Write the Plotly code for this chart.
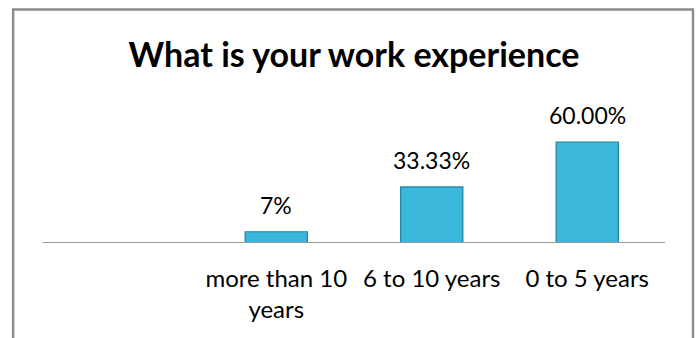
import plotly.graph_objects as go

categories = ["", "more than 10 years", "6 to 10 years", "0 to 5 years"]
tick_labels = ["", "more than 10<br>years", "6 to 10 years", "0 to 5 years"]
values = [None, 6.67, 33.33, 60.00]
value_labels = ["", "7%", "33.33%", "60.00%"]

x_pos = list(range(len(categories)))
bar_x = [x for x, v in zip(x_pos, values) if v is not None]
bar_y = [v for v in values if v is not None]
bar_t = [t for t, v in zip(value_labels, values) if v is not None]

FONT = "Lato"

fig = go.Figure()
fig.add_trace(go.Bar(
    x=bar_x, y=bar_y, width=0.4,
    marker=dict(color="#3ab7da", line=dict(color="#22829c", width=1.2)),
    hoverinfo="skip",
))

for x, y, t in zip(bar_x, bar_y, bar_t):
    fig.add_annotation(x=x, y=y, text=t, showarrow=False, yanchor="bottom",
                       yshift=11, font=dict(family=FONT, size=23, color="#000000"))

fig.update_layout(
    width=699, height=338,
    margin=dict(l=43, r=34, t=60, b=95),
    paper_bgcolor="white", plot_bgcolor="white",
    showlegend=False,
    title=dict(text="<b>What is your work experience</b>", x=0.5, xref="paper",
               y=1 - 55 / 338, yref="container", yanchor="middle",
               font=dict(family=FONT, size=34, color="#000000")),
    xaxis=dict(range=[-0.5, 3.5], tickvals=x_pos, ticktext=tick_labels,
               showgrid=False, zeroline=False, showline=False, ticks="",
               ticklabelstandoff=19,
               tickfont=dict(family=FONT, size=24, color="#000000")),
    yaxis=dict(range=[0, 183 / 1.683], visible=False, showgrid=False, zeroline=False),
    shapes=[
        dict(type="line", xref="paper", yref="y", x0=0, x1=1, y0=0, y1=0,
             line=dict(color="#999999", width=2), layer="above"),
        dict(type="rect", xref="paper", yref="paper", x0=-0.048, x1=1.045,
             y0=-0.6, y1=1.276, line=dict(color="#8c8c8c", width=2.5)),
    ],
)

fig.write_html("out.html")
